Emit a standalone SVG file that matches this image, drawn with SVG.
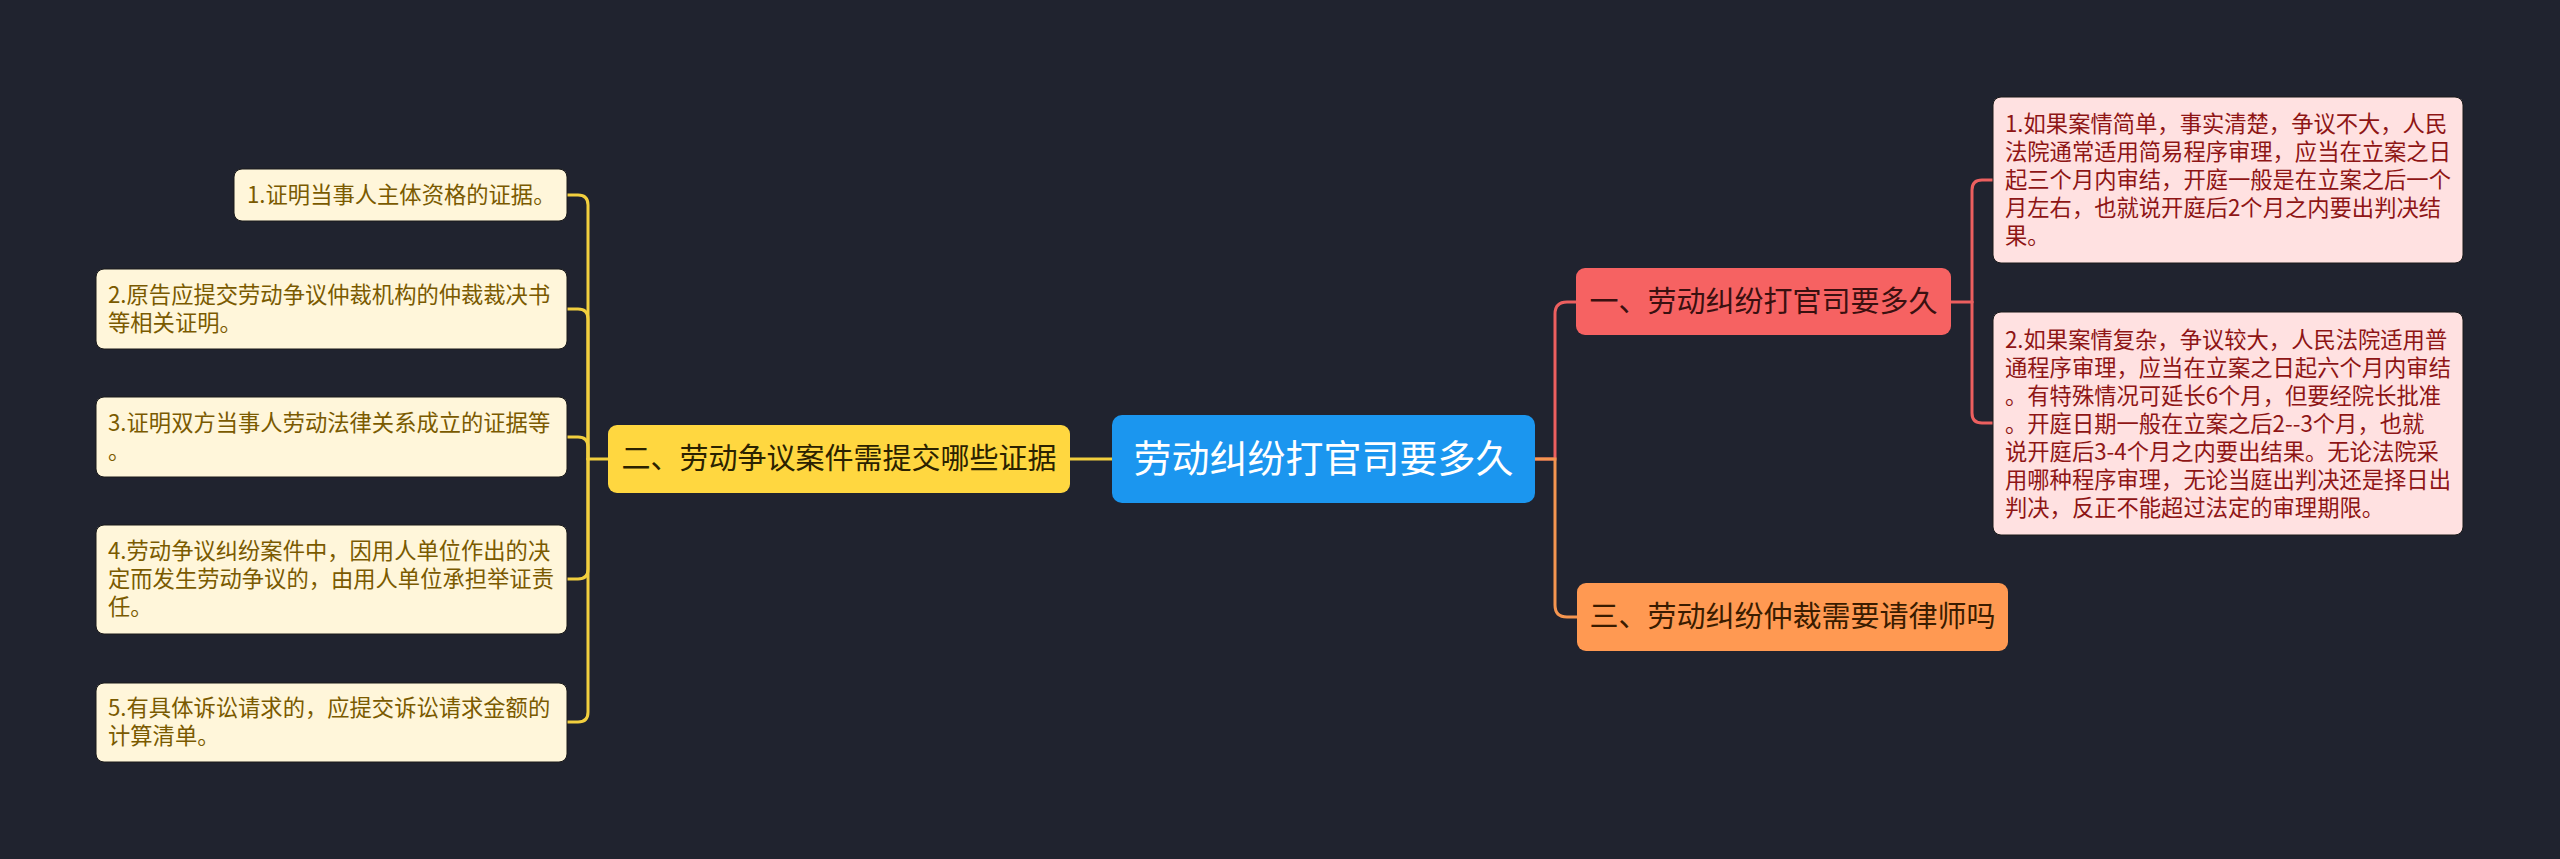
<svg xmlns="http://www.w3.org/2000/svg" width="2560" height="859" viewBox="0 0 2560 859">
<style>
text{font-family:"Noto Sans CJK SC","Noto Sans",sans-serif}
.c{fill:none;stroke-width:3;stroke-linecap:round}
.cy{stroke:#f2cf3e}.cr{stroke:#ec5f5f}.co{stroke:#f49550}
.root{fill:#1b96ef}.rt{fill:#ffffff;font-size:38px;text-anchor:middle}
.y{fill:#ffd740}.yt{fill:#2b2200;font-size:29px;text-anchor:middle}
.r{fill:#f66262}.rdt{fill:#3a1010;font-size:29px;text-anchor:middle}
.o{fill:#ff9952}.ot{fill:#3a1c00;font-size:29px;text-anchor:middle}
.ly{fill:#fff6da;stroke:#1a1a1a;stroke-width:1}.lyt{fill:#7a5a00;font-size:22.3px}
.lr{fill:#ffe1e1;stroke:#1a1a1a;stroke-width:1}.lrt{fill:#8e1515;font-size:22.3px}
</style>
<rect width="2560" height="859" fill="#20232f"/>
<g id="connectors">
<path class="c cy" d="M1112 459 H1070"/>
<path class="c cy" d="M608 459 H588"/>
<path class="c cy" d="M588 459 V205 Q588 195 578 195 H567"/>
<path class="c cy" d="M588 459 V319 Q588 309 578 309 H567"/>
<path class="c cy" d="M588 459 V447 Q588 437 578 437 H567"/>
<path class="c cy" d="M588 459 V569 Q588 579 578 579 H567"/>
<path class="c cy" d="M588 459 V712 Q588 722 578 722 H567"/>
<path class="c cr" d="M1535 459 H1555 V314 Q1555 302 1567 302 H1576"/>
<path class="c co" d="M1535 459 H1555 V605 Q1555 617 1567 617 H1577"/>
<path class="c cr" d="M1951 302 H1972"/>
<path class="c cr" d="M1972 302 V190 Q1972 180 1982 180 H1993"/>
<path class="c cr" d="M1972 302 V413 Q1972 423 1982 423 H1993"/>
</g>
<g id="root">
<rect class="root" x="1112" y="415" width="423" height="88" rx="10"/>
<text class="rt" x="1323.5" y="472">劳动纠纷打官司要多久</text>
</g>
<g id="n2">
<rect class="y" x="608" y="425" width="462" height="68" rx="9"/>
<text class="yt" x="839" y="469">二、劳动争议案件需提交哪些证据</text>
</g>
<g id="n1">
<rect class="r" x="1576" y="268" width="375" height="67" rx="9"/>
<text class="rdt" x="1763.5" y="311.5">一、劳动纠纷打官司要多久</text>
</g>
<g id="n3">
<rect class="o" x="1577" y="583" width="431" height="68" rx="9"/>
<text class="ot" x="1792.5" y="627">三、劳动纠纷仲裁需要请律师吗</text>
</g>
<g id="n1-1">
<rect class="lr" x="1993" y="97" width="470" height="166" rx="8"/>
<text class="lrt" x="2005"><tspan x="2005" y="132">1.如果案情简单，事实清楚，争议不大，人民</tspan><tspan x="2005" y="160">法院通常适用简易程序审理，应当在立案之日</tspan><tspan x="2005" y="188">起三个月内审结，开庭一般是在立案之后一个</tspan><tspan x="2005" y="216">月左右，也就说开庭后2个月之内要出判决结</tspan><tspan x="2005" y="244">果。</tspan></text>
</g>
<g id="n1-2">
<rect class="lr" x="1993" y="312" width="470" height="223" rx="8"/>
<text class="lrt" x="2005"><tspan x="2005" y="347.5">2.如果案情复杂，争议较大，人民法院适用普</tspan><tspan x="2005" y="375.5">通程序审理，应当在立案之日起六个月内审结</tspan><tspan x="2005" y="403.5">。有特殊情况可延长6个月，但要经院长批准</tspan><tspan x="2005" y="431.5">。开庭日期一般在立案之后2--3个月，也就</tspan><tspan x="2005" y="459.5">说开庭后3-4个月之内要出结果。无论法院采</tspan><tspan x="2005" y="487.5">用哪种程序审理，无论当庭出判决还是择日出</tspan><tspan x="2005" y="515.5">判决，反正不能超过法定的审理期限。</tspan></text>
</g>
<g id="n2-1">
<rect class="ly" x="234" y="169" width="333" height="52" rx="8"/>
<text class="lyt" x="247" y="203">1.证明当事人主体资格的证据。</text>
</g>
<g id="n2-2">
<rect class="ly" x="96" y="269" width="471" height="80" rx="8"/>
<text class="lyt"><tspan x="108" y="303">2.原告应提交劳动争议仲裁机构的仲裁裁决书</tspan><tspan x="108" y="331">等相关证明。</tspan></text>
</g>
<g id="n2-3">
<rect class="ly" x="96" y="397" width="471" height="80" rx="8"/>
<text class="lyt"><tspan x="108" y="431">3.证明双方当事人劳动法律关系成立的证据等</tspan><tspan x="108" y="459">。</tspan></text>
</g>
<g id="n2-4">
<rect class="ly" x="96" y="525" width="471" height="109" rx="8"/>
<text class="lyt"><tspan x="108" y="559">4.劳动争议纠纷案件中，因用人单位作出的决</tspan><tspan x="108" y="587">定而发生劳动争议的，由用人单位承担举证责</tspan><tspan x="108" y="615">任。</tspan></text>
</g>
<g id="n2-5">
<rect class="ly" x="96" y="683" width="471" height="79" rx="8"/>
<text class="lyt"><tspan x="108" y="716">5.有具体诉讼请求的，应提交诉讼请求金额的</tspan><tspan x="108" y="744">计算清单。</tspan></text>
</g>
</svg>
